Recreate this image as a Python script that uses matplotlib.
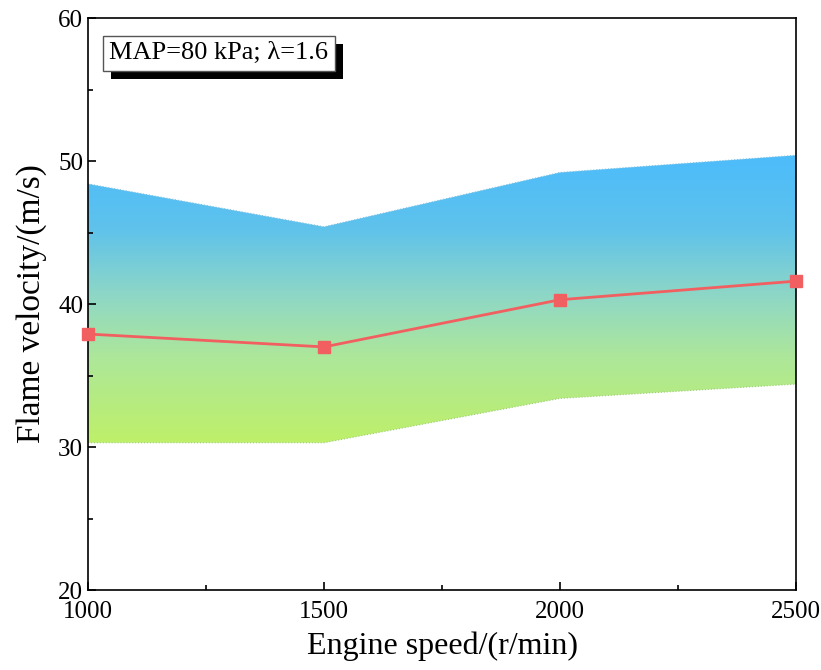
import numpy as np
import matplotlib.pyplot as plt
import matplotlib.patheffects as pe
from matplotlib.colors import LinearSegmentedColormap
from matplotlib.patches import Polygon

plt.rcParams['font.family'] = ['Liberation Serif', 'DejaVu Serif']

speed = [1000, 1500, 2000, 2500]
v_upper = [48.4, 45.4, 49.2, 50.4]
v_lower = [30.3, 30.3, 33.4, 34.4]
v_mean = [37.9, 37.0, 40.3, 41.6]

fig = plt.figure(figsize=(8.21, 6.7), dpi=100)
ax = fig.add_axes([0.1072, 0.1194, 0.8624, 0.8537])

# gradient band between lower and upper
cmap = LinearSegmentedColormap.from_list(
    "band", [(0, "#bef069"), (0.3, "#ade79a"), (0.5, "#90d8c4"),
             (0.75, "#5ec2ec"), (1, "#4cbcfb")])
grad = np.linspace(0, 1, 256).reshape(-1, 1)
ymin, ymax = min(v_lower), max(v_upper)
im = ax.imshow(grad, cmap=cmap, aspect="auto", origin="lower",
               extent=[speed[0], speed[-1], ymin, ymax], zorder=1)
poly = Polygon(list(zip(speed, v_upper)) + list(zip(speed[::-1], v_lower[::-1])),
               closed=True, facecolor="none", edgecolor="none")
ax.add_patch(poly)
im.set_clip_path(poly)
ax.plot(speed, v_upper, color="#7fc0e0", lw=0.8, ls=":", zorder=2)
ax.plot(speed, v_lower, color="#9ccf70", lw=0.8, ls=":", zorder=2)

ax.plot(speed, v_mean, color="#f25f60", lw=2, marker="s", markersize=9,
        zorder=3, clip_on=False)

ax.set_xlim(1000, 2500)
ax.set_ylim(20, 60)
ax.set_xticks([1000, 1500, 2000, 2500])
ax.set_xticks([1250, 1750, 2250], minor=True)
ax.set_yticks([20, 30, 40, 50, 60])
ax.set_yticks([25, 35, 45, 55], minor=True)
ax.tick_params(which="both", direction="in", labelsize=18, top=False, right=False)
ax.tick_params(which="major", length=6, width=1.2)
ax.tick_params(which="minor", length=3.5, width=1.2)
ax.tick_params(axis="x", pad=8)
for s in ax.spines.values():
    s.set_linewidth(1.2)
ax.set_xlabel("Engine speed/(r/min)", fontsize=23, labelpad=6)
ax.set_ylabel("Flame velocity/(m/s)", fontsize=24, labelpad=8)

# label box with drop shadow
t = ax.text(0.03, 0.928, "MAP=80 kPa; λ=1.6", transform=ax.transAxes, fontsize=19,
            bbox=dict(boxstyle="square,pad=0.25", fc="white", ec="#555555", lw=1))
t.get_bbox_patch().set_path_effects([
    pe.SimplePatchShadow(offset=(6, -6), shadow_rgbFace="black", alpha=1),
    pe.Normal()])

fig.savefig("out.png", dpi=100)
